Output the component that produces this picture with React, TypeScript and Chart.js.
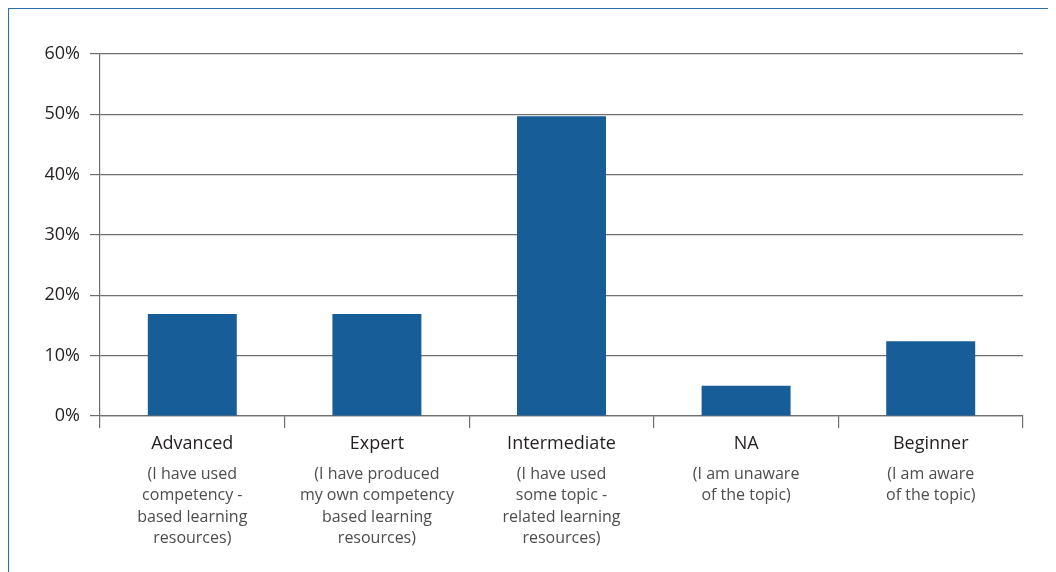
import React, { useEffect, useRef } from "react";
import { Chart, registerables } from "chart.js";

Chart.register(...registerables);

const categories = ["Advanced", "Expert", "Intermediate", "NA", "Beginner"];
const subLabels = [
  ["(I have used", "competency -", "based learning", "resources)"],
  ["(I have produced", "my own competency", "based learning", "resources)"],
  ["(I have used", "some topic -", "related learning", "resources)"],
  ["(I am unaware", "of the topic)"],
  ["(I am aware", "of the topic)"],
];
const values = [16.9, 16.9, 49.7, 5.0, 12.4];
const yTicks = [0, 10, 20, 30, 40, 50, 60];

const FONT = "'Open Sans', 'Noto Sans', sans-serif";
const GRID = "#6f6f6f";

export default function App() {
  const ref = useRef<HTMLCanvasElement | null>(null);

  useEffect(() => {
    if (!ref.current) return;
    const chart = new Chart(ref.current, {
      type: "bar",
      data: {
        labels: categories,
        datasets: [
          {
            data: values,
            backgroundColor: "#175e98",
            borderWidth: 0,
            barPercentage: 0.482,
            categoryPercentage: 1,
            xAxisID: "x",
            yAxisID: "y",
          },
        ],
      },
      options: {
        animation: false,
        responsive: false,
        maintainAspectRatio: false,
        layout: { padding: { top: 45, right: 33, bottom: 0, left: 0 } },
        plugins: {
          legend: { display: false },
          tooltip: { enabled: false },
        },
        scales: {
          y: {
            min: 0,
            max: 60,
            afterBuildTicks: (s: any) => {
              s.ticks = yTicks.map((v) => ({ value: v }));
            },
            afterFit: (s: any) => {
              s.width = 91;
            },
            ticks: {
              callback: (v: any) => v + "%",
              color: "#231f20",
              font: { family: FONT, size: 18 },
              padding: 10,
            },
            grid: {
              color: GRID,
              lineWidth: 1.2,
              drawTicks: true,
              tickLength: 10,
            },
            border: { display: true, color: GRID, width: 1.2 },
          },
          x: {
            type: "category",
            position: "bottom",
            weight: 0,
            offset: true,
            afterFit: (s: any) => {
              s.height = 40;
            },
            ticks: {
              color: "#231f20",
              font: { family: FONT, size: 18, lineHeight: 1.2 },
              padding: 5,
              maxRotation: 0,
              autoSkip: false,
            },
            grid: {
              offset: true,
              drawOnChartArea: false,
              drawTicks: true,
              tickLength: 12,
              color: GRID,
              lineWidth: 1.2,
            },
            border: { display: true, color: GRID, width: 1.2 },
          },
          x2: {
            type: "category",
            position: "bottom",
            weight: 1,
            offset: true,
            labels: subLabels as any,
            afterFit: (s: any) => {
              s.height = 116;
            },
            ticks: {
              color: "#4d4d4d",
              font: { family: FONT, size: 16, lineHeight: 1.33 },
              padding: 8,
              maxRotation: 0,
              autoSkip: false,
            },
            grid: { display: false, drawTicks: false },
            border: { display: false },
          },
        },
      },
    });
    return () => chart.destroy();
  }, []);

  return (
    <div
      style={{
        width: 1100,
        height: 600,
        borderTop: "1px solid #2c6fae",
        borderLeft: "1px solid #2c6fae",
        overflow: "hidden",
      }}
    >
      <canvas ref={ref} width={1047} height={563} style={{ display: "block" }} />
    </div>
  );
}
